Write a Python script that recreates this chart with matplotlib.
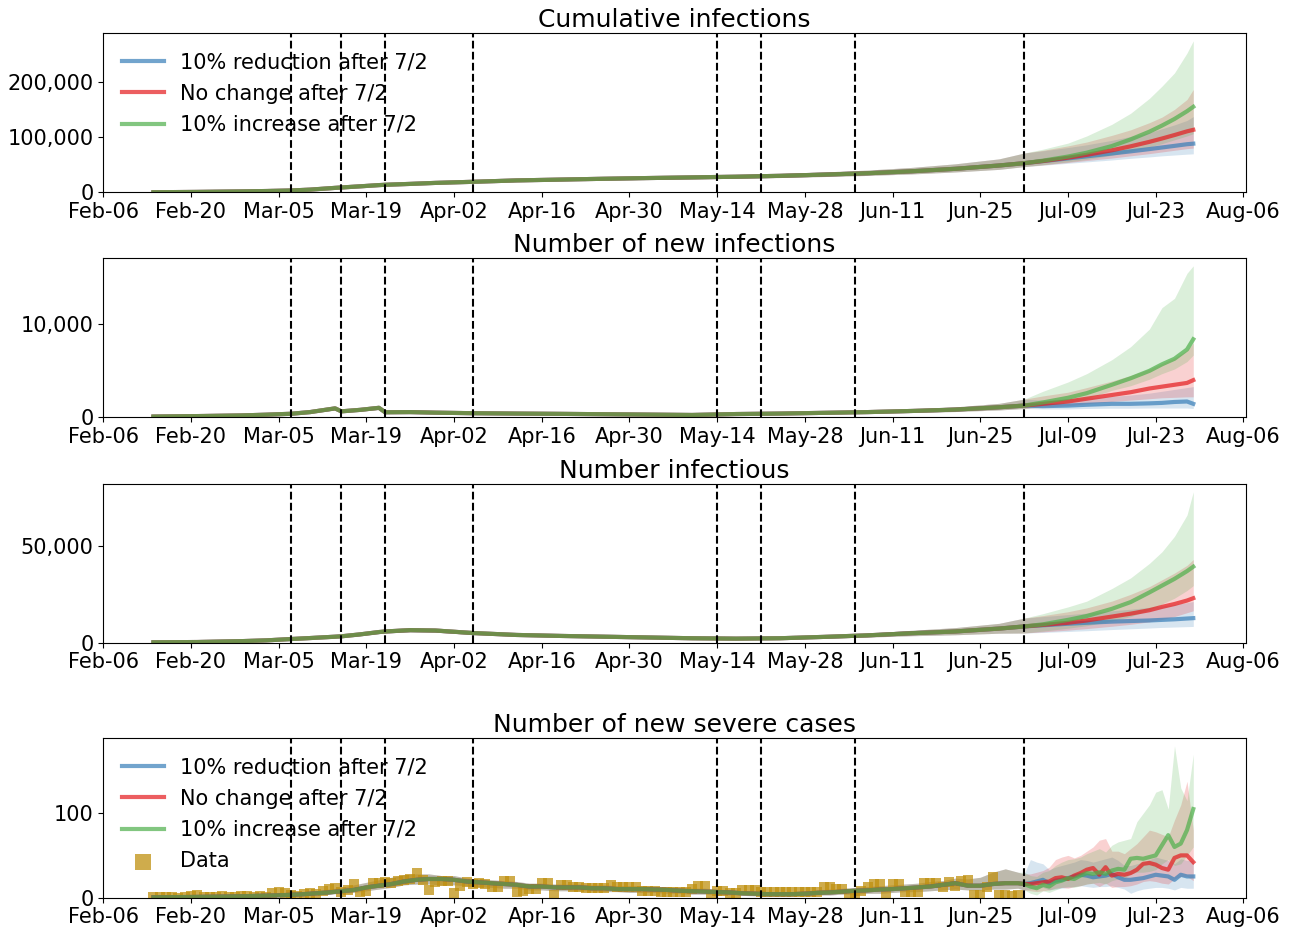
import numpy as np
import pandas as pd
import matplotlib
matplotlib.use('Agg')
import matplotlib.pyplot as plt
from matplotlib.ticker import FuncFormatter

# ---------------- data ----------------
scenario_labels = ['10% reduction after 7/2', 'No change after 7/2', '10% increase after 7/2']
scenario_colors = ['#377eb8', '#e41a1c', '#4daf4a']

intervention_dates = ['2020-03-07', '2020-03-15', '2020-03-22', '2020-04-05',
                      '2020-05-14', '2020-05-21', '2020-06-05', '2020-07-02']

xtick_dates = ['2020-02-06', '2020-02-20', '2020-03-05', '2020-03-19', '2020-04-02',
               '2020-04-16', '2020-04-30', '2020-05-14', '2020-05-28', '2020-06-11',
               '2020-06-25', '2020-07-09', '2020-07-23', '2020-08-06']

hist_dates = ['2020-02-14', '2020-02-21', '2020-02-28', '2020-03-03', '2020-03-07', '2020-03-10',
              '2020-03-14', '2020-03-15', '2020-03-18', '2020-03-21', '2020-03-22', '2020-03-26',
              '2020-03-30', '2020-04-05', '2020-04-12', '2020-04-19', '2020-04-26', '2020-05-03',
              '2020-05-10', '2020-05-17', '2020-05-24', '2020-05-31', '2020-06-07', '2020-06-14',
              '2020-06-21', '2020-06-28', '2020-07-02']
proj_dates = ['2020-07-02', '2020-07-05', '2020-07-09', '2020-07-12', '2020-07-16', '2020-07-19',
              '2020-07-22', '2020-07-24', '2020-07-26', '2020-07-28', '2020-07-29']

# Cumulative infections (thousands)
cum_hist_med = [0.1, 0.7, 1.6, 2.3, 3.3, 4.8, 8.0, 8.7, 10.8, 13.0, 13.6, 15.2, 17.0, 19.0, 21.5,
                23.0, 24.5, 25.8, 27.0, 28.2, 29.8, 32.0, 34.5, 38.0, 42.5, 48.5, 52.7]
cum_hist_lo = [0.1, 0.6, 1.4, 2.0, 2.9, 4.3, 7.3, 7.9, 9.9, 12.0, 12.5, 14.0, 15.6, 17.4, 19.6,
               21.0, 22.3, 23.4, 24.4, 25.4, 26.7, 28.5, 30.5, 33.2, 36.8, 41.5, 46.5]
cum_hist_hi = [0.1, 0.8, 1.8, 2.6, 3.8, 5.4, 8.8, 9.6, 11.8, 14.2, 14.8, 16.6, 18.6, 20.8, 23.6,
               25.4, 27.1, 28.7, 30.2, 31.8, 33.9, 36.8, 40.2, 45.0, 51.5, 60.5, 71.0]
cum_proj_med = [[52.7, 56.4, 61.3, 65.1, 70.2, 74.1, 78.2, 81.1, 84.0, 87.0, 88.0],
                [52.7, 56.6, 62.6, 67.8, 76.0, 83.2, 91.3, 97.3, 103.6, 110.3, 113.0],
                [52.7, 57.2, 64.7, 71.7, 83.7, 95.7, 109.7, 120.7, 132.7, 146.7, 154.7]]
cum_proj_lo = [[46.5, 49.0, 52.5, 55.0, 58.5, 61.5, 64.0, 66.0, 67.5, 69.0, 69.6],
               [46.5, 49.5, 54.0, 57.5, 62.0, 66.0, 70.0, 73.0, 76.0, 79.0, 80.0],
               [46.5, 50.0, 55.0, 59.5, 67.0, 74.0, 82.0, 88.0, 95.0, 102.0, 106.0]]
cum_proj_hi = [[71.0, 75.0, 81.0, 86.0, 94.0, 101.0, 108.0, 115.0, 122.0, 130.0, 137.0],
               [71.0, 76.0, 84.0, 91.0, 103.0, 113.0, 126.0, 136.0, 150.0, 168.0, 186.0],
               [71.0, 78.0, 89.0, 102.0, 123.0, 143.0, 170.0, 192.0, 216.0, 252.0, 274.0]]

# Number of new infections
new_hist_med = [80, 130, 200, 280, 380, 560, 960, 640, 800, 1020, 540, 560, 500, 440, 400, 370,
                330, 290, 250, 350, 400, 480, 560, 680, 830, 1080, 1260]
new_hist_lo = [60, 100, 160, 220, 300, 450, 800, 530, 660, 850, 450, 470, 420, 370, 330, 300,
               270, 235, 200, 280, 320, 380, 430, 520, 620, 790, 950]
new_hist_hi = [100, 170, 250, 350, 470, 690, 1150, 780, 970, 1230, 660, 680, 610, 540, 490, 450,
               410, 360, 310, 430, 500, 610, 720, 890, 1120, 1500, 1950]
new_proj_med = [[1260, 1200, 1260, 1350, 1450, 1450, 1500, 1550, 1650, 1700, 1450],
                [1260, 1450, 1700, 2000, 2400, 2700, 3100, 3300, 3500, 3700, 4000],
                [1260, 1600, 2100, 2600, 3500, 4200, 5000, 5700, 6300, 7300, 8400]]
new_proj_lo = [[950, 900, 900, 950, 980, 980, 1000, 1000, 1000, 1000, 950],
               [950, 1100, 1250, 1450, 1700, 1850, 2000, 2100, 2150, 2200, 2200],
               [950, 1250, 1600, 2000, 2900, 3400, 4100, 4700, 5200, 6000, 6700]]
new_proj_hi = [[1950, 1850, 2000, 2100, 2250, 2400, 2600, 2800, 3000, 3200, 3300],
               [1950, 2300, 2700, 3200, 3900, 4500, 5200, 5800, 6400, 7200, 8000],
               [1950, 2800, 3800, 4700, 6200, 7600, 9500, 11800, 12800, 15500, 16300]]

# Number infectious
inf_hist_med = [200, 350, 800, 1200, 1900, 2400, 3100, 3300, 4300, 5500, 5800, 6500, 6300, 5000,
                4000, 3500, 3100, 2700, 2300, 2100, 2300, 3000, 3800, 4900, 5800, 7300, 8400]
inf_hist_lo = [150, 280, 650, 1000, 1600, 2050, 2650, 2800, 3700, 4750, 5000, 5600, 5400, 4300,
               3400, 2950, 2600, 2250, 1900, 1700, 1850, 2350, 2900, 3600, 4100, 4900, 5000]
inf_hist_hi = [250, 420, 950, 1400, 2200, 2800, 3600, 3800, 4950, 6300, 6650, 7450, 7250, 5750,
               4600, 4050, 3600, 3150, 2700, 2550, 2850, 3750, 4900, 6400, 7800, 10000, 12700]
inf_proj_med = [[8.4, 9.0, 9.8, 10.3, 10.9, 11.2, 11.5, 11.8, 12.1, 12.5, 12.7],
                [8.4, 9.2, 10.3, 11.5, 13.5, 15.0, 16.8, 18.5, 20.0, 21.8, 23.0],
                [8.4, 9.5, 11.8, 13.8, 17.5, 21.0, 26.0, 29.5, 33.0, 37.0, 39.3]]
inf_proj_lo = [[5.0, 5.3, 5.8, 6.2, 6.8, 7.2, 7.6, 7.9, 8.1, 8.3, 8.4],
               [5.0, 5.6, 6.5, 7.3, 8.5, 9.5, 10.8, 12.0, 13.5, 15.5, 16.5],
               [5.0, 6.0, 7.5, 8.8, 11.2, 13.5, 17.0, 20.0, 23.0, 27.0, 29.5]]
inf_proj_hi = [[12.7, 13.5, 14.5, 15.3, 16.5, 17.3, 18.3, 19.0, 19.8, 20.7, 21.3],
               [12.7, 14.0, 16.0, 18.0, 21.5, 25.0, 29.0, 32.5, 36.0, 40.0, 43.0],
               [12.7, 15.0, 18.5, 21.5, 28.0, 33.5, 41.0, 47.0, 55.0, 66.0, 78.0]]

# Number of new severe cases: observed daily data (Feb 14 - Jul 1)
sev_data_start = '2020-02-14'
sev_data = [1, 1, 1, 1, 0, 1, 2, 3, 1, 1, 1, 2, 1, 1, 2, 2,
            1, 2, 1, 5, 6, 5, 3, 2, 4, 5, 4, 8, 10, 11, 7, 9, 16, 6, 8, 17, 17, 18, 17, 19, 21,
            22, 29, 21, 9, 18, 20,
            20, 5, 14, 18, 16, 17, 16, 12, 12, 20, 20, 6, 8, 10, 10, 17, 17, 3, 15, 15, 13, 13,
            11, 11, 11, 11, 15, 12, 12, 12,
            12, 8, 8, 8, 7, 7, 7, 7, 7, 10, 14, 14, 3, 8, 8, 5, 5, 9, 9, 9, 6, 6, 6, 6, 6, 6, 7,
            7, 7, 7, 13,
            13, 10, 10, 4, 4, 8, 13, 16, 16, 3, 16, 16, 7, 7, 7, 17, 17, 17, 12, 18, 14, 20, 21,
            3, 3, 13, 24, 3, 3, 2,
            3]

# Model fit (every 2 days, Feb 14 - Jul 1)
sev_hist_start = '2020-02-14'
sev_hist_med = [0.3, 0.4, 0.5, 0.6, 0.8, 1.0, 1.2, 1.5,
                1.8, 2.2, 2.6, 3.2, 4.0, 5.0, 6.0, 7.5, 9.0, 12.0, 14.0, 16.0, 19.0, 21.0, 22.0, 22.0,
                21.0, 19.0, 18.0, 17.0, 16.0, 15.0, 13.0, 13.0, 12.0, 12.0, 12.0, 11.0, 11.0, 10.0, 10.0,
                10.0, 9.5, 9.0, 8.0, 7.5, 7.0, 6.5, 6.0, 5.0, 4.5, 4.0, 4.0, 4.0, 4.5, 5.5,
                6.0, 7.0, 8.0, 8.5, 9.5, 10.0, 11.0, 12.0, 13.0, 15.0, 17.0, 14.0, 14.0, 16.0, 17.0,
                17.0]
sev_hist_lo = [0, 0, 0, 0, 0, 0, 0, 0,
               0.5, 1, 1, 1.5, 2, 3, 4, 5, 6, 8, 10, 12, 15, 16, 16, 15,
               15, 14, 13, 12, 11, 11, 9, 9, 8, 8, 8, 8, 7, 7, 6,
               6, 6, 5, 5, 4, 4, 3, 3, 2.5, 2, 2, 2, 2, 2, 3,
               3, 4, 4, 5, 5, 6, 7, 7, 8, 9, 10, 9, 9, 10, 10,
               11]
sev_hist_hi = [1, 1, 1.5, 1.5, 2, 2, 2.5, 3,
               3.5, 4, 4.5, 5.5, 6.5, 8, 10, 12, 15, 18, 21, 24, 27, 28, 28, 26,
               26, 23, 22, 21, 20, 19, 17, 17, 16, 16, 16, 15, 15, 14, 14,
               14, 13, 13, 12, 11, 11, 10, 9, 8, 8, 7, 7, 7, 8, 9,
               10, 11, 12, 13, 14, 15, 16, 17, 19, 20, 23, 22, 24, 30, 34,
               30]

# Projections (daily, Jul 1 - Jul 29)
sev_proj_start = '2020-07-01'
sev_proj_med = [
    [17, 16, 17, 19, 21, 17, 20, 21, 23, 25, 27, 26, 24, 25, 26, 28, 24, 21, 21, 22, 23, 25, 27,
     26, 25, 21, 27, 25, 25],
    [17, 16, 16, 17, 18, 19, 23, 24, 22, 26, 29, 33, 35, 27, 36, 26, 28, 27, 29, 33, 40, 41, 39,
     35, 33, 47, 50, 50, 42],
    [17, 16, 13, 11, 15, 13, 18, 20, 23, 22, 26, 29, 28, 30, 28, 32, 34, 33, 46, 47, 46, 48, 50,
     62, 74, 60, 64, 80, 105]]
sev_proj_lo = [
    [10, 9, 10, 11, 12, 9, 10, 11, 12, 13, 14, 13, 12, 13, 13, 14, 12, 10, 5, 8, 10, 11, 12, 12,
     11, 9, 12, 11, 11],
    [10, 9, 8, 7, 8, 9, 11, 12, 11, 13, 14, 16, 17, 13, 17, 12, 13, 13, 14, 16, 19, 20, 19, 17,
     16, 22, 25, 25, 20],
    [10, 9, 5, 3, 8, 6, 9, 12, 13, 12, 14, 16, 17, 18, 16, 20, 22, 22, 28, 30, 30, 31, 33, 40,
     45, 38, 40, 50, 60]]
sev_proj_hi = [
    [30, 28, 45, 42, 40, 33, 36, 38, 40, 42, 45, 44, 42, 44, 46, 48, 44, 38, 38, 40, 42, 45, 48,
     46, 44, 40, 46, 44, 44],
    [30, 28, 28, 30, 32, 36, 45, 48, 50, 47, 50, 55, 60, 68, 70, 55, 55, 52, 58, 64, 72, 80, 78,
     75, 72, 92, 110, 138, 80],
    [30, 30, 26, 25, 30, 32, 38, 42, 45, 46, 48, 52, 55, 58, 54, 62, 66, 68, 70, 90, 100, 110,
     125, 128, 105, 180, 130, 115, 170]]

# ---------------- figure ----------------
W, H = 1292, 930
fig = plt.figure(figsize=(W / 100, H / 100), dpi=100)

def box(top, bottom):
    return [103.3 / W, (H - bottom) / H, (1246.0 - 103.3) / W, (bottom - top) / H]

axes = [fig.add_axes(box(33.3, 192.3)), fig.add_axes(box(258.3, 417.3)),
        fig.add_axes(box(484.3, 642.7)), fig.add_axes(box(738.3, 897.5))]

titles = ['Cumulative infections', 'Number of new infections', 'Number infectious',
          'Number of new severe cases']

hd = pd.to_datetime(hist_dates)
pdd = pd.to_datetime(proj_dates)
fmt = FuncFormatter(lambda v, p: f'{v:,.0f}')


def draw_panel(ax, dates_h, dates_p, hmed, hlo, hhi, pmed, plo, phi, scale=1.0):
    dates = list(dates_h) + list(dates_p[1:])
    for i in range(3):
        med = np.array(list(hmed) + [v * scale for v in pmed[i][1:]])
        lo = np.array(list(hlo) + [v * scale for v in plo[i][1:]])
        hi = np.array(list(hhi) + [v * scale for v in phi[i][1:]])
        ax.fill_between(dates, lo, hi, color=scenario_colors[i], alpha=0.2, lw=0)
        ax.plot(dates, med, color=scenario_colors[i], alpha=0.7, lw=3,
                label=scenario_labels[i])


draw_panel(axes[0], hd, pdd, [v * 1000 for v in cum_hist_med], [v * 1000 for v in cum_hist_lo],
           [v * 1000 for v in cum_hist_hi], cum_proj_med, cum_proj_lo, cum_proj_hi, scale=1000)
draw_panel(axes[1], hd, pdd, new_hist_med, new_hist_lo, new_hist_hi,
           new_proj_med, new_proj_lo, new_proj_hi)
draw_panel(axes[2], hd, pdd, inf_hist_med, inf_hist_lo, inf_hist_hi,
           inf_proj_med, inf_proj_lo, inf_proj_hi, scale=1000)

sev_hd = pd.date_range(sev_hist_start, periods=len(sev_hist_med), freq='2D')
sev_pd = pd.date_range(sev_proj_start, periods=len(sev_proj_med[0]), freq='D')
draw_panel(axes[3], sev_hd, sev_pd, sev_hist_med, sev_hist_lo, sev_hist_hi,
           sev_proj_med, sev_proj_lo, sev_proj_hi)
sev_dd = pd.date_range(sev_data_start, periods=len(sev_data), freq='D')
axes[3].scatter(sev_dd, sev_data, marker='s', s=60, color='#c09010', alpha=0.75,
                lw=0, label='Data', zorder=1.5)

xt = pd.to_datetime(xtick_dates)
for ax, t in zip(axes, titles):
    for d in intervention_dates:
        ax.axvline(pd.Timestamp(d), color='k', ls='--', lw=1.5)
    ax.set_title(t, fontsize=18, pad=4.5)
    ax.set_xticks(xt)
    ax.set_xticklabels([d.strftime('%b-%d') for d in xt])
    ax.set_xlim(pd.Timestamp('2020-02-06'), pd.Timestamp('2020-08-06 10:00'))
    ax.tick_params(labelsize=15)
    ax.yaxis.set_major_formatter(fmt)
    ax.set_ylim(bottom=0)

axes[0].legend(loc='upper left', frameon=False, fontsize=15, labelspacing=0.55)
axes[3].legend(loc='upper left', frameon=False, fontsize=15, markerscale=1.4, labelspacing=0.55)

fig.savefig('out.png', dpi=100)
